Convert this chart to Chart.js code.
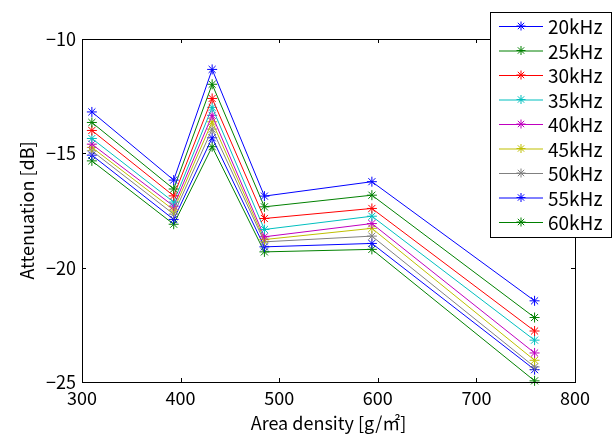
<!DOCTYPE html>
<html>
<head>
<meta charset="utf-8">
<script src="https://cdn.jsdelivr.net/npm/chart.js@4/dist/chart.umd.min.js"></script>
<style>
    html, body { margin: 0; padding: 0; background: #fff; }
    #wrap { position: relative; width: 615px; height: 434px; }
</style>
</head>
<body>
<div id="wrap"><canvas id="myChart" width="615" height="434"></canvas></div>
<script>
// area density [g/m2] on x
var areaDensity = [310, 393, 432, 485, 594, 759];
var freqLabels = ['20kHz', '25kHz', '30kHz', '35kHz', '40kHz', '45kHz', '50kHz', '55kHz', '60kHz'];
var xTicks = [300, 400, 500, 600, 700, 800];
var yTicks = [-25, -20, -15, -10];

// attenuation [dB] per frequency
var att20 = [-13.19, -16.17, -11.33, -16.87, -16.24, -21.45];
var att25 = [-13.65, -16.56, -11.98, -17.34, -16.83, -22.18];
var att30 = [-14.00, -16.86, -12.60, -17.85, -17.41, -22.77];
var att35 = [-14.35, -17.13, -12.99, -18.33, -17.75, -23.17];
var att40 = [-14.60, -17.31, -13.34, -18.65, -18.07, -23.73];
var att45 = [-14.74, -17.48, -13.62, -18.77, -18.28, -24.05];
var att50 = [-14.89, -17.66, -13.94, -18.87, -18.62, -24.34];
var att55 = [-15.08, -17.89, -14.32, -19.09, -18.94, -24.46];
var att60 = [-15.33, -18.10, -14.71, -19.31, -19.20, -24.95];

var seriesValues = [att20, att25, att30, att35, att40, att45, att50, att55, att60];
var seriesColors = ['#0000ff', '#008000', '#ff0000', '#00bfbf', '#bf00bf', '#bfbf00', '#808080', '#0000ff', '#008000'];

var FONT = '"Noto Sans CJK JP", "Liberation Sans", sans-serif';

var datasets = seriesValues.map(function (vals, i) {
    return {
        label: freqLabels[i],
        data: vals.map(function (v, j) { return { x: areaDensity[j], y: v }; }),
        borderColor: seriesColors[i],
        backgroundColor: seriesColors[i],
        borderWidth: 1,
        pointStyle: 'star',
        pointRadius: 5,
        pointBorderWidth: 1,
        pointBorderColor: seriesColors[i],
        tension: 0,
        clip: false
    };
});

// box, inward ticks and the boxed legend (matlab look)
var matlabFrame = {
    id: 'matlabFrame',
    afterDraw: function (chart) {
        var ctx = chart.ctx;
        var a = chart.chartArea;
        var xs = chart.scales.x, ys = chart.scales.y;
        ctx.save();
        ctx.strokeStyle = '#000';
        ctx.lineWidth = 1;
        ctx.strokeRect(Math.round(a.left) + 0.5, Math.round(a.top) + 0.5,
            Math.round(a.right - a.left), Math.round(a.bottom - a.top));
        ctx.beginPath();
        xTicks.forEach(function (t) {
            var px = Math.round(xs.getPixelForValue(t)) + 0.5;
            ctx.moveTo(px, a.bottom); ctx.lineTo(px, a.bottom - 4);
            ctx.moveTo(px, a.top); ctx.lineTo(px, a.top + 4);
        });
        yTicks.forEach(function (t) {
            var py = Math.round(ys.getPixelForValue(t)) + 0.5;
            ctx.moveTo(a.left, py); ctx.lineTo(a.left + 4, py);
            ctx.moveTo(a.right, py); ctx.lineTo(a.right - 4, py);
        });
        ctx.stroke();

        // legend
        var lx = 490, ly = 12, lw = 121, lh = 225, row = 24.5;
        ctx.fillStyle = '#fff';
        ctx.fillRect(lx, ly, lw, lh);
        ctx.strokeRect(lx + 0.5, ly + 0.5, lw, lh);
        ctx.font = '19px ' + FONT;
        ctx.textBaseline = 'middle';
        chart.data.datasets.forEach(function (ds, i) {
            var cy = ly + 14 + i * row;
            ctx.strokeStyle = ds.borderColor;
            ctx.lineWidth = 1;
            ctx.beginPath();
            ctx.moveTo(499, cy + 0.5); ctx.lineTo(543, cy + 0.5);
            ctx.stroke();
            Chart.helpers.drawPoint(ctx, { pointStyle: 'star', radius: 4.5, borderWidth: 1 }, 521, cy);
            ctx.fillStyle = '#000';
            ctx.fillText(ds.label, 548, cy + 1);
        });
        ctx.restore();
    }
};

var ctx = document.getElementById('myChart').getContext('2d');
var chart = new Chart(ctx, {
    type: 'line',
    data: { datasets: datasets },
    options: {
        responsive: false,
        animation: false,
        layout: { padding: { top: 39, right: 40, left: 0, bottom: 0 } },
        plugins: {
            legend: { display: false },
            tooltip: { enabled: false }
        },
        scales: {
            x: {
                type: 'linear',
                min: 300,
                max: 800,
                afterFit: function (s) { s.height = 52; },
                afterBuildTicks: function (s) { s.ticks = xTicks.map(function (v) { return { value: v }; }); },
                grid: { display: false, drawTicks: false },
                border: { display: true, color: '#000', width: 1 },
                ticks: { color: '#000', padding: 5, font: { family: FONT, size: 18 } },
                title: {
                    display: true,
                    text: 'Area density [g/㎡]',
                    color: '#000',
                    padding: { top: 0, bottom: 0 },
                    font: { family: FONT, size: 18 }
                }
            },
            y: {
                min: -25,
                max: -10,
                afterFit: function (s) { s.width = 82; },
                afterBuildTicks: function (s) { s.ticks = yTicks.map(function (v) { return { value: v }; }); },
                grid: { display: false, drawTicks: false },
                border: { display: true, color: '#000', width: 1 },
                ticks: {
                    color: '#000',
                    padding: 6,
                    font: { family: FONT, size: 18 },
                    callback: function (v) { return String(v).replace('-', '\u2212'); }
                },
                title: {
                    display: true,
                    text: 'Attenuation [dB]',
                    color: '#000',
                    padding: { top: 16, bottom: 0 },
                    font: { family: FONT, size: 18 }
                }
            }
        }
    },
    plugins: [matlabFrame]
});
</script>
</body>
</html>
